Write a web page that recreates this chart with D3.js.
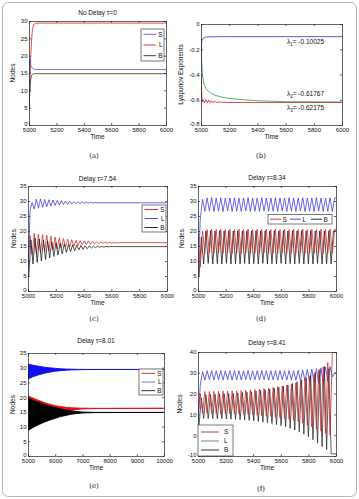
<!DOCTYPE html>
<html>
<head>
<meta charset="utf-8">
<script src="https://cdn.jsdelivr.net/npm/d3@7"></script>
<style>
  body { margin: 0; background: #fff; }
  svg { display: block; font-family: "Liberation Sans", Arial, sans-serif; }
  .tick text { font-size: 6px; font-family: "Liberation Sans", Arial, sans-serif; fill: #111; }
  .domain, .tick line { stroke: #222; stroke-width: 0.7; }
  .lbl { font-size: 6.5px; fill: #111; }
  .cap { font-family: "DejaVu Serif", "Liberation Serif", serif; font-size: 7px; fill: #222; }
</style>
</head>
<body>
<script>
// ---- data ----
const timeTicks = [5000, 5200, 5400, 5600, 5800, 6000];
const longTicks = [5000, 6000, 7000, 8000, 9000, 10000];

// (a) no delay
const aTime = [5000, 5004, 5008, 5012, 5018, 5025, 5035, 5045, 5060, 5080, 6000];
const aS = [5, 18.5, 19, 17.5, 16.8, 16.3, 16.1, 16.0, 16.0, 16.0, 16.0];
const aL = [5, 9, 14, 19, 24, 27.5, 29, 29.3, 29.4, 29.4, 29.4];
const aB = [5, 8, 11, 13, 14.2, 14.6, 14.8, 14.8, 14.8, 14.8, 14.8];

// (b) Lyapunov exponents
const bTime = [5000, 5005, 5010, 5020, 5030, 5040, 5050, 5075, 5100, 5150, 5200, 5300, 5400, 5500, 5600, 6000];
const lam1 = [-0.25, -0.14, -0.12, -0.11, -0.105, -0.103, -0.102, -0.101, -0.101, -0.1005, -0.1004, -0.1003, -0.1003, -0.1003, -0.10025, -0.10025];
const lam2 = [-0.12, -0.3, -0.4, -0.47, -0.5, -0.52, -0.53, -0.55, -0.565, -0.58, -0.59, -0.6, -0.608, -0.612, -0.615, -0.61767];
const lam3Time = [5000, 5008, 5015, 5025, 5035, 5045, 5055, 5065, 5075, 5085, 5095, 5110, 5130, 5200, 6000];
const lam3 = [-0.4, -0.62, -0.6, -0.625, -0.598, -0.625, -0.603, -0.624, -0.607, -0.623, -0.61, -0.622, -0.618, -0.622, -0.62175];
const lamLabels = ["-0.10025", "-0.61767", "-0.62175"];

// (c) delay 7.54, successive extrema every cStep time units
const cStep = 15;
const cL = [5, 27, 29.5, 27.3, 30.6, 27.6, 30.7, 27.9, 30.5, 28.1, 30.4, 28.3, 30.3, 28.5, 30.2, 28.7, 30.1, 28.8, 30, 28.9, 29.9, 29, 29.8, 29.1, 29.75, 29.15, 29.7, 29.2, 29.6, 29.25, 29.55, 29.3, 29.5, 29.35, 29.45, 29.4, 29.4];
const cS = [10, 18.5, 12, 19.2, 12.5, 19, 12.8, 18.8, 13.1, 18.6, 13.4, 18.3, 13.7, 18, 14, 17.7, 14.3, 17.5, 14.6, 17.3, 14.8, 17.1, 15, 16.9, 15.2, 16.8, 15.4, 16.7, 15.5, 16.6, 15.6, 16.5, 15.7, 16.4, 15.8, 16.35, 15.85, 16.3, 15.9, 16.25, 15.95, 16.2, 16, 16.15, 16.05, 16.1];
const cB = [5, 17, 9, 17.6, 9.5, 17.3, 10, 17, 10.5, 16.7, 11, 16.4, 11.5, 16.1, 12, 15.9, 12.4, 15.7, 12.8, 15.5, 13.1, 15.4, 13.4, 15.3, 13.7, 15.2, 13.9, 15.1, 14.1, 15, 14.3, 14.95, 14.45, 14.9, 14.55, 14.88, 14.65, 14.85, 14.72, 14.82, 14.78, 14.8];

// (d) delay 8.34
const dStep = 16.5;
const dL = [5, 24, 30.6, 26.5, 31, 26.7, 31.1, 26.5, 31, 26.6, 31.1, 26.5, 31, 26.7, 31, 26.5, 31.1, 26.6, 31, 26.5, 31, 26.7, 31.1, 26.5, 31, 26.6, 31, 26.5, 31.1, 26.7, 31, 26.5, 31, 26.6, 31.1, 26.5, 31, 26.7, 31, 26.5, 31.1, 26.6, 31, 26.5, 31, 26.7, 31.1, 26.5, 31, 26.6, 31, 26.5, 31.1, 26.7, 31, 26.5, 31, 26.6, 31.1, 26.5, 31];
const dS = [19, 8, 20, 12.5, 20.5, 12.7, 20.6, 12.5, 20.5, 12.6, 20.6, 12.5, 20.5, 12.7, 20.6, 12.5, 20.5, 12.6, 20.6, 12.5, 20.5, 12.7, 20.6, 12.5, 20.5, 12.6, 20.6, 12.5, 20.5, 12.7, 20.6, 12.5, 20.5, 12.6, 20.6, 12.5, 20.5, 12.7, 20.6, 12.5, 20.5, 12.6, 20.6, 12.5, 20.5, 12.7, 20.6, 12.5, 20.5, 12.6, 20.6, 12.5, 20.5, 12.7, 20.6, 12.5, 20.5, 12.6, 20.6, 12.5, 20.5];
const dB = [5, 18, 9, 20, 9.2, 20.1, 9, 20, 9.1, 20.1, 9, 20, 9.2, 20.1, 9, 20, 9.1, 20.1, 9, 20, 9.2, 20.1, 9, 20, 9.1, 20.1, 9, 20, 9.2, 20.1, 9, 20, 9.1, 20.1, 9, 20, 9.2, 20.1, 9, 20, 9.1, 20.1, 9, 20, 9.2, 20.1, 9, 20, 9.1, 20.1, 9, 20, 9.2, 20.1, 9, 20, 9.1, 20.1, 9, 20];

// (e) delay 8.01, oscillation envelopes (too dense to show single cycles)
const eTime = [5000, 5030, 5200, 5400, 5600, 5800, 6000, 6200, 6400, 6600, 6800, 7000, 7500, 10000];
const eLhi = [31, 31.2, 30.8, 30.5, 30.2, 29.95, 29.8, 29.65, 29.55, 29.5, 29.45, 29.42, 29.4, 29.4];
const eLlo = [26, 26.3, 27, 27.6, 28.1, 28.5, 28.8, 29, 29.15, 29.25, 29.3, 29.35, 29.4, 29.4];
const eShi = [20.5, 20.3, 19.6, 18.9, 18.2, 17.6, 17.1, 16.8, 16.55, 16.4, 16.3, 16.25, 16.2, 16.2];
const eSlo = [10.5, 10.8, 11.6, 12.4, 13.1, 13.7, 14.3, 14.8, 15.2, 15.5, 15.8, 16, 16.15, 16.2];
const eBhi = [19.5, 19.5, 18.8, 18.2, 17.5, 16.9, 16.4, 16, 15.6, 15.3, 15.1, 14.95, 14.82, 14.8];
const eBlo = [8.5, 8.8, 9.8, 10.7, 11.5, 12.2, 12.8, 13.4, 13.8, 14.2, 14.45, 14.6, 14.75, 14.8];

// (f) delay 8.41
const fStep = 16.5;
const fL = [5, 24, 30.6, 26.5, 31, 26.7, 31.1, 26.5, 31, 26.6, 31.1, 26.5, 31, 26.7, 31, 26.5, 31.1, 26.6, 31, 26.5, 31, 26.7, 31.1, 26.5, 31, 26.6, 31, 26.5, 31.1, 26.7, 31, 26.5, 31, 26.6, 31.1, 26.5, 31, 26.7, 31, 26.5, 31.1, 26.6, 31, 26.4, 31.2, 26.2, 31.4, 26, 31.6, 25.7, 31.8, 25.4, 32, 25, 32.4, 24.5, 32.8, 26, 33, 28, 30];
const fS = [10, 20, 10.5, 21, 10.5, 21, 10.4, 21.1, 10.4, 21.1, 10.3, 21.2, 10.3, 21.2, 10.2, 21.3, 10.2, 21.4, 10.1, 21.5, 10, 21.6, 9.9, 21.8, 9.8, 22, 9.6, 22.2, 9.4, 22.4, 9.2, 22.7, 9, 23, 8.7, 23.3, 8.4, 23.7, 8, 24.1, 7.6, 24.6, 7.1, 25.2, 6.5, 26, 5.8, 27, 5, 28.2, 4, 29.6, 3, 31.2, 2, 33, 1, 35, 0, 40];
const fB = [5, 18, 8, 19.5, 8, 19.6, 8, 19.7, 7.9, 19.8, 7.9, 19.9, 7.8, 20, 7.7, 20.1, 7.6, 20.3, 7.5, 20.5, 7.3, 20.7, 7.1, 20.9, 6.9, 21.2, 6.6, 21.5, 6.3, 21.8, 6, 22.2, 5.6, 22.6, 5.1, 23.1, 4.6, 23.6, 4, 24.2, 3.3, 24.9, 2.5, 25.7, 1.6, 26.6, 0.5, 27.6, -0.8, 28.8, -2.2, 30.2, -3.8, 31.6, -5.5, 33, -7, 32, -9];

const RED = "#d02525", BLUE = "#3a3ae0", BLK = "#1a1a1a", GRN = "#2f9a4a";

const W = 359, H = 499;
const svg = d3.select("body").append("svg").attr("width", W).attr("height", H);

svg.append("rect")
  .attr("x", 2.5).attr("y", 2.5).attr("width", W - 5).attr("height", H - 5)
  .attr("rx", 6).attr("fill", "#fff").attr("stroke", "#b5b5b5").attr("stroke-width", 1);

function panel(p) {
  const x = d3.scaleLinear().domain(p.xd).range([p.l, p.r]);
  const y = d3.scaleLinear().domain(p.yd).range([p.b, p.t]);
  const g = svg.append("g");
  g.append("rect").attr("x", p.l).attr("y", p.t).attr("width", p.r - p.l).attr("height", p.b - p.t).attr("fill", "#fff");
  g.append("clipPath").attr("id", "clip-" + p.id).append("rect")
    .attr("x", p.l).attr("y", p.t).attr("width", p.r - p.l).attr("height", p.b - p.t);
  const plot = g.append("g").attr("clip-path", `url(#clip-${p.id})`);

  g.append("g").attr("transform", `translate(0,${p.b})`)
    .call(d3.axisBottom(x).tickValues(p.xt).tickSize(-2).tickSizeOuter(0).tickPadding(3).tickFormat(d => String(d)));
  g.append("g").attr("transform", `translate(0,${p.t})`)
    .call(d3.axisTop(x).tickValues(p.xt).tickSize(-2).tickSizeOuter(0).tickFormat(""));
  const yl = g.append("g").attr("transform", `translate(${p.l},0)`)
    .call(d3.axisLeft(y).tickValues(p.yt).tickSize(-2).tickSizeOuter(0).tickPadding(1.5).tickFormat(p.fy || (d => String(d))));
  // lowest label sits a touch higher so it clears the first time label
  yl.selectAll(".tick text").filter((d, i) => i === 0).attr("dy", "0.05em");
  g.append("g").attr("transform", `translate(${p.r},0)`)
    .call(d3.axisRight(y).tickValues(p.yt).tickSize(-2).tickSizeOuter(0).tickFormat(""));

  const cx = (p.l + p.r) / 2;
  if (p.title) g.append("text").attr("class", "lbl").attr("x", cx).attr("y", p.ty + 2.2)
    .attr("text-anchor", "middle").text(p.title);
  g.append("text").attr("class", "lbl").attr("x", cx).attr("y", p.b + 14)
    .attr("text-anchor", "middle").text("Time");
  g.append("text").attr("class", "lbl")
    .attr("transform", `translate(${p.yx},${(p.t + p.b) / 2}) rotate(-90)`)
    .attr("text-anchor", "middle").attr("dy", "0.35em").text(p.ylabel);
  svg.append("text").attr("class", "cap").attr("x", p.cx).attr("y", p.cy + 2.5)
    .attr("text-anchor", "middle").text(p.caption);
  return { x, y, g, plot };
}

function drawLine(P, xs, ys, color, w) {
  const pts = xs.map((t, i) => [t, ys[i]]);
  P.plot.append("path").datum(pts)
    .attr("fill", "none").attr("stroke", color).attr("stroke-width", w || 0.8)
    .attr("stroke-linejoin", "round")
    .attr("d", d3.line().x(d => P.x(d[0])).y(d => P.y(d[1])));
}

// extrema series: i-th value at t0 + i*step, held flat to the end of the axis
function drawOsc(P, t0, step, vals, color, tEnd) {
  const xs = vals.map((v, i) => t0 + i * step);
  const ys = vals.slice();
  if (tEnd > xs[xs.length - 1]) { xs.push(tEnd); ys.push(vals[vals.length - 1]); }
  drawLine(P, xs, ys, color, 0.75);
}

function drawBand(P, xs, lo, hi, color) {
  const pts = xs.map((t, i) => [t, lo[i], hi[i]]);
  P.plot.append("path").datum(pts)
    .attr("fill", color).attr("stroke", color).attr("stroke-width", 0.9)
    .attr("d", d3.area().x(d => P.x(d[0])).y0(d => P.y(d[1])).y1(d => P.y(d[2])));
}

function legendV(P, box, items) {
  const g = P.g.append("g");
  g.append("rect").attr("x", box[0]).attr("y", box[1]).attr("width", box[2]).attr("height", box[3])
    .attr("fill", "#fff").attr("stroke", "#222").attr("stroke-width", 0.6);
  const step = box[3] / items.length;
  items.forEach((it, i) => {
    const yy = box[1] + step * (i + 0.5);
    g.append("line").attr("x1", box[0] + 2.5).attr("x2", box[0] + box[2] - 8)
      .attr("y1", yy).attr("y2", yy).attr("stroke", it[1]).attr("stroke-width", 0.9);
    g.append("text").attr("class", "lbl").attr("x", box[0] + box[2] - 1.5).attr("y", yy + 2.2)
      .attr("text-anchor", "end").text(it[0]);
  });
}

// (a)
const A = panel({ id: "a", l: 29, r: 166, t: 21, b: 125, xd: [5000, 6000], yd: [0, 30], xt: timeTicks,
  yt: [0, 5, 10, 15, 20, 25, 30], title: "No Delay \u03c4=0", ty: 13, ylabel: "Nodes", yx: 13, caption: "(a)", cx: 94, cy: 155 });
drawLine(A, aTime, aL, RED);
drawLine(A, aTime, aB, "#333");
drawLine(A, aTime, aS, "#5b5bd0");
legendV(A, [141, 29, 23, 32], [["S", "#5b5bd0"], ["L", RED], ["B", "#333"]]);

// (b)
const B = panel({ id: "b", l: 201, r: 342, t: 24, b: 125, xd: [5000, 6000], yd: [-0.8, 0], xt: timeTicks,
  yt: [-0.8, -0.6, -0.4, -0.2, 0], fy: d => d === 0 ? "0" : d.toFixed(1),
  ylabel: "Lyapunov Exponents", yx: 181, caption: "(b)", cx: 261, cy: 155 });
drawLine(B, bTime, lam2, GRN);
drawLine(B, lam3Time, lam3, RED);
drawLine(B, bTime, lam1, "#3535c8");
[[1, 44], [2, 96], [3, 110]].forEach(([k, yy], i) => {
  const t = B.g.append("text").attr("class", "lbl").attr("x", 287).attr("y", yy);
  t.append("tspan").text("\u03bb");
  t.append("tspan").attr("font-size", "4.5px").attr("dy", "1.5").text(k);
  t.append("tspan").attr("dy", "-1.5").text("= " + lamLabels[i]);
});

// (c)
const C = panel({ id: "c", l: 28, r: 167, t: 186, b: 291, xd: [5000, 6000], yd: [0, 35], xt: timeTicks,
  yt: [0, 5, 10, 15, 20, 25, 30, 35], title: "Delay \u03c4=7.54", ty: 179, ylabel: "Nodes", yx: 14, caption: "(c)", cx: 94, cy: 318 });
drawOsc(C, 5000, cStep, cS, RED, 6000);
drawOsc(C, 5006, cStep, cB, BLK, 6000);
drawOsc(C, 5000, cStep, cL, BLUE, 6000);
legendV(C, [142, 205, 24, 27], [["S", RED], ["L", BLUE], ["B", BLK]]);

// (d)
const D = panel({ id: "d", l: 198, r: 336, t: 186, b: 291, xd: [5000, 6000], yd: [0, 35], xt: timeTicks,
  yt: [0, 5, 10, 15, 20, 25, 30, 35], title: "Delay \u03c4=8.34", ty: 178, ylabel: "Nodes", yx: 182, caption: "(d)", cx: 261, cy: 318 });
drawOsc(D, 5000, dStep, dL, BLUE, 6000);
drawOsc(D, 5008, dStep, dB, BLK, 6000);
drawOsc(D, 5000, dStep, dS, RED, 6000);
{
  const g = D.g.append("g");
  g.append("rect").attr("x", 268).attr("y", 214.5).attr("width", 64).attr("height", 9.5)
    .attr("fill", "#fff").attr("stroke", "#222").attr("stroke-width", 0.6);
  [["S", RED, 270], ["L", BLUE, 290], ["B", BLK, 311]].forEach(([n, c, x0]) => {
    g.append("line").attr("x1", x0).attr("x2", x0 + 11).attr("y1", 219.2).attr("y2", 219.2)
      .attr("stroke", c).attr("stroke-width", 0.9);
    g.append("text").attr("class", "lbl").attr("x", x0 + 12.5).attr("y", 221.5).text(n);
  });
}

// (e)
const E = panel({ id: "e", l: 28, r: 164, t: 353, b: 456, xd: [5000, 10000], yd: [0, 35], xt: longTicks,
  yt: [0, 5, 10, 15, 20, 25, 30, 35], title: "Delay \u03c4=8.01", ty: 341, ylabel: "Nodes", yx: 13, caption: "(e)", cx: 94, cy: 485 });
drawBand(E, eTime, eLlo, eLhi, "#1010f0");
drawBand(E, eTime, eSlo, eShi, "#e01010");
drawBand(E, eTime, eBlo, eBhi, "#000");
legendV(E, [139, 369, 24, 26], [["S", RED], ["L", "#6a6ae0"], ["B", BLK]]);

// (f)
const F = panel({ id: "f", l: 198, r: 336, t: 352, b: 456, xd: [5000, 6000], yd: [-10, 40], xt: timeTicks,
  yt: [-10, 0, 10, 20, 30, 40], title: "Delay \u03c4=8.41", ty: 343, ylabel: "Nodes", yx: 180, caption: "(f)", cx: 261, cy: 488 });
drawOsc(F, 5000, fStep, fL, BLUE, 6000);
drawOsc(F, 5008, fStep, fB, "#2a2a2a", 6000);
drawOsc(F, 5000, fStep, fS, RED, 6000);
{
  const g = F.g.append("g");
  g.append("rect").attr("x", 198).attr("y", 425).attr("width", 35).attr("height", 31)
    .attr("fill", "#fff").attr("stroke", "#222").attr("stroke-width", 0.6);
  [["S", RED, 432], ["L", "#777", 441], ["B", "#222", 450]].forEach(([n, c, yy]) => {
    g.append("line").attr("x1", 201).attr("x2", 219).attr("y1", yy).attr("y2", yy)
      .attr("stroke", c).attr("stroke-width", 0.9);
    g.append("text").attr("class", "lbl").attr("x", 224).attr("y", yy + 2.2).text(n);
  });
}
</script>
</body>
</html>
